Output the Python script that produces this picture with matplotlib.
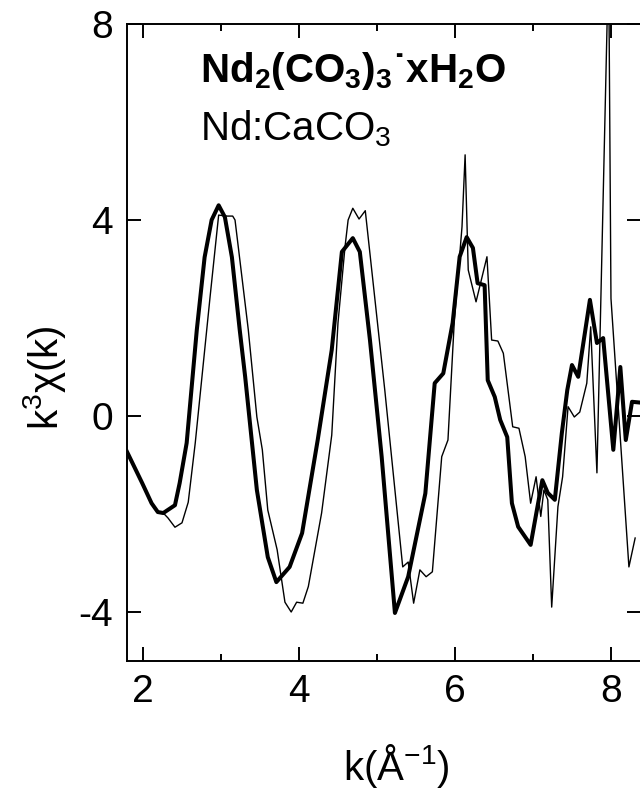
import matplotlib
import matplotlib.pyplot as plt
from matplotlib.ticker import MultipleLocator

matplotlib.use("agg")

plt.rcParams["font.family"] = ["Liberation Sans", "DejaVu Sans"]
plt.rcParams["mathtext.default"] = "regular"

# Nd2(CO3)3.xH2O reference spectrum (thick line)
k_ref = [1.795, 1.99, 2.11, 2.19, 2.26, 2.41, 2.47, 2.56, 2.69, 2.79, 2.88, 2.97,
         3.05, 3.14, 3.24, 3.31, 3.46, 3.60, 3.71, 3.88, 4.04, 4.24, 4.42, 4.55,
         4.69, 4.78, 4.91, 5.06, 5.23, 5.40, 5.62, 5.74, 5.85, 5.97, 6.06, 6.15,
         6.23, 6.29, 6.38, 6.42, 6.51, 6.58, 6.67, 6.73, 6.81, 6.97, 7.05, 7.12,
         7.19, 7.28, 7.37, 7.44, 7.50, 7.58, 7.73, 7.82, 7.90, 8.03, 8.12, 8.19,
         8.27, 8.40]
chi_ref = [-0.73, -1.37, -1.78, -1.96, -1.98, -1.82, -1.37, -0.55, 1.76, 3.24, 4.0, 4.3,
           4.06, 3.24, 1.76, 0.8, -1.51, -2.88, -3.39, -3.08, -2.39, -0.49, 1.35, 3.35,
           3.63, 3.35, 1.55, -0.83, -4.02, -3.28, -1.58, 0.67, 0.87, 1.9, 3.25, 3.65,
           3.43, 2.71, 2.67, 0.73, 0.39, -0.08, -0.43, -1.78, -2.26, -2.63, -1.92, -1.31,
           -1.57, -1.71, -0.35, 0.53, 1.04, 0.8, 2.37, 1.49, 1.59, -0.69, 1.0, -0.49,
           0.29, 0.27]

# Nd:CaCO3 sample (thin line)
k_smp = [1.795, 1.99, 2.11, 2.19, 2.26, 2.32, 2.41, 2.50, 2.58, 2.67, 2.86, 2.97,
         3.08, 3.15, 3.18, 3.35, 3.46, 3.53, 3.60, 3.72, 3.82, 3.90, 3.97, 4.05,
         4.12, 4.29, 4.42, 4.50, 4.59, 4.63, 4.69, 4.77, 4.85, 5.10, 5.33, 5.40,
         5.47, 5.55, 5.63, 5.71, 5.83, 5.91, 5.99, 6.09, 6.13, 6.17, 6.27, 6.41,
         6.47, 6.55, 6.62, 6.74, 6.82, 6.90, 6.97, 7.04, 7.10, 7.14, 7.19, 7.24,
         7.32, 7.38, 7.45, 7.53, 7.60, 7.69, 7.74, 7.82, 7.97, 8.00, 8.23, 8.31]
chi_smp = [-0.73, -1.37, -1.78, -1.96, -1.98, -2.08, -2.27, -2.18, -1.76, -0.55, 2.43, 4.1,
           4.08, 4.08, 4.0, 1.76, -0.02, -0.69, -1.92, -2.73, -3.8, -4.0, -3.8, -3.82,
           -3.48, -1.98, -0.39, 1.9, 3.45, 4.0, 4.24, 4.02, 4.19, 0.53, -3.08, -2.98,
           -3.82, -3.14, -3.28, -3.18, -0.83, -0.49, 1.9, 3.86, 5.33, 2.98, 2.33, 3.25,
           1.55, 1.53, 1.28, -0.22, -0.25, -0.83, -1.78, -1.24, -2.05, -1.51, -1.71, -3.9,
           -1.85, -1.24, 0.19, -0.02, 0.08, 0.67, 1.82, -1.16, 9.4, 2.4, -3.08, -2.49]

fig = plt.figure(figsize=(6.4, 7.96), dpi=100)
ax = fig.add_axes([127 / 640, 1 - 661 / 796, 514 / 640, 637 / 796])

ax.plot(k_smp, chi_smp, color="black", lw=1.0)
ax.plot(k_ref, chi_ref, color="black", lw=2.9)

ax.set_xlim(1.795, 8.385)
ax.set_ylim(-5, 8)
ax.xaxis.set_major_locator(MultipleLocator(2))
ax.xaxis.set_minor_locator(MultipleLocator(1))
ax.yaxis.set_major_locator(MultipleLocator(4))
ax.tick_params(which="both", direction="in", top=True, right=True, width=1.4,
               labelsize=28)
ax.tick_params(which="major", length=10)
ax.tick_params(which="minor", length=5)
ax.tick_params(axis="x", pad=9)
ax.tick_params(axis="y", pad=10)
for sp in ax.spines.values():
    sp.set_linewidth(1.4)

ax.set_xticks([2, 4, 6, 8], ["2", "4", "6", "8"])
ax.set_yticks([-4, 0, 4, 8], ["-4", "0", "4", "8"])

fig.text(396 / 640, 1 - 780 / 796, r"k(Å$^{-1}$)", fontsize=29, ha="center",
         va="baseline")
fig.text(44 / 640, 1 - 378 / 796, r"k$^{3}$χ(k)", fontsize=29, rotation=90,
         ha="center", va="center")

# sample labels, bold one for the thick curve
fig.text(200 / 640, 1 - 82 / 796, r"Nd$_2$(CO$_3$)$_3$˙xH$_2$O",
         fontsize=29, fontweight="bold", ha="left", va="baseline")
fig.text(200 / 640, 1 - 140 / 796, r"Nd:CaCO$_3$", fontsize=29,
         ha="left", va="baseline")

plt.savefig("out.png", dpi=100)
plt.close(fig)
